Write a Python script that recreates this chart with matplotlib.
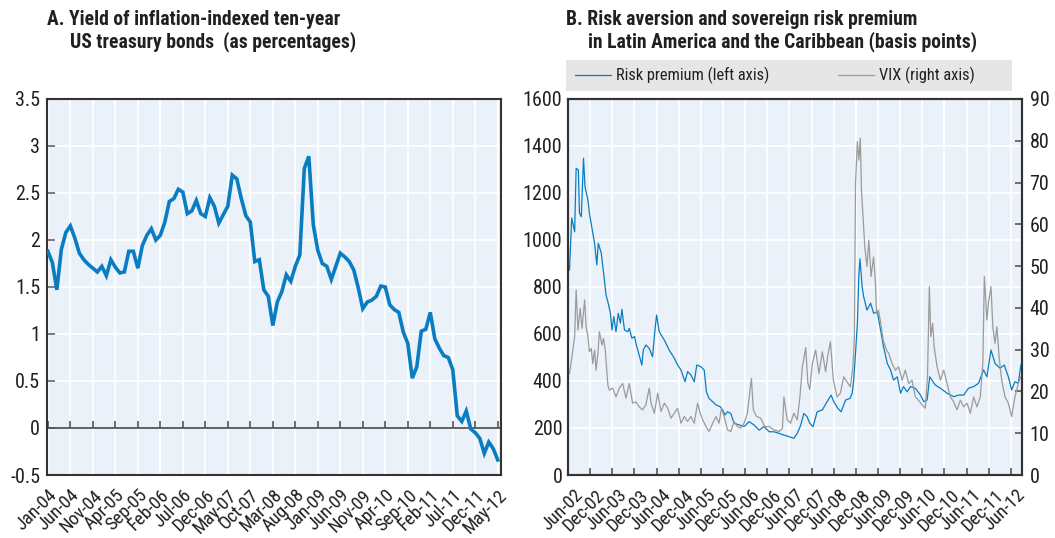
import matplotlib.pyplot as plt
from matplotlib import font_manager
from matplotlib.font_manager import FontProperties
from matplotlib.patches import Rectangle
from matplotlib.transforms import ScaledTranslation


# =========================
# DATA
# =========================

# Panel A: monthly yield, Jan-04 .. May-12 (index 0..100)
yield_months = list(range(101))
yield_values = [
    1.88, 1.76, 1.47, 1.90, 2.08, 2.15, 2.02, 1.86, 1.79, 1.74,
    1.70, 1.66, 1.72, 1.62, 1.79, 1.71, 1.65, 1.66, 1.88, 1.88,
    1.70, 1.94, 2.05, 2.12, 2.00, 2.05, 2.19, 2.41, 2.44, 2.54,
    2.51, 2.28, 2.31, 2.42, 2.28, 2.25, 2.45, 2.36, 2.18, 2.27,
    2.36, 2.69, 2.65, 2.44, 2.26, 2.19, 1.77, 1.79, 1.47, 1.40,
    1.09, 1.34, 1.45, 1.63, 1.56, 1.72, 1.84, 2.76, 2.89, 2.16,
    1.89, 1.75, 1.72, 1.58, 1.72, 1.86, 1.82, 1.77, 1.68, 1.49,
    1.27, 1.34, 1.36, 1.40, 1.51, 1.50, 1.31, 1.26, 1.23, 1.02,
    0.90, 0.53, 0.65, 1.03, 1.05, 1.23, 0.95, 0.85, 0.77, 0.75,
    0.62, 0.13, 0.07, 0.18, -0.01, -0.05, -0.11, -0.27, -0.15, -0.22,
    -0.34,
]
yield_labels = [
    "Jan-04", "Jun-04", "Nov-04", "Apr-05", "Sep-05", "Feb-06", "Jul-06",
    "Dec-06", "May-07", "Oct-07", "Mar-08", "Aug-08", "Jan-09", "Jun-09",
    "Nov-09", "Apr-10", "Sep-10", "Feb-11", "Jul-11", "Dec-11", "May-12",
]
yield_ticks = [-0.5, 0, 0.5, 1, 1.5, 2, 2.5, 3, 3.5]
yield_tick_labels = ["-0.5", "0", "0.5", "1", "1.5", "2", "2.5", "3", "3.5"]

# Panel B: months since Jun-02
rp_months = [
    0.4, 1.0, 1.8, 2.2, 2.8, 3.1, 3.6, 4.2, 4.6, 5.4, 5.8, 6.5, 7.2, 7.8,
    8.2, 9.0, 9.6, 10.3, 10.8, 11.5, 11.9, 12.4, 13.0, 13.6, 14.2, 14.6,
    15.3, 16.2, 16.6, 17.3, 18.0, 18.4, 18.9, 20.0, 20.4, 21.1, 22.0, 22.9,
    23.6, 24.0, 24.7, 26.1, 27.4, 28.8, 29.7, 30.6, 31.7, 32.4, 33.3, 34.2,
    34.9, 36.0, 36.9, 37.5, 38.2, 39.2, 40.1, 41.2, 41.9, 42.5, 43.2, 44.1,
    45.0, 46.4, 47.7, 49.1, 50.4, 51.8, 53.1, 54.5, 55.8, 57.2, 58.5, 59.9,
    61.2, 62.1, 63.0, 63.9, 64.8, 65.5, 66.4, 67.5, 68.9, 70.2, 71.3, 72.0,
    73.1, 74.0, 75.2, 76.4, 77.0, 77.4, 77.9, 78.4, 78.8, 79.1, 79.7, 80.1,
    81.0, 82.0, 82.8, 83.8, 84.6, 85.5, 86.5, 87.4, 88.2, 89.2, 90.1, 90.9,
    91.9, 92.8, 94.1, 95.5, 96.4, 97.3, 98.0, 98.6, 99.5, 100.9, 102.7,
    104.5, 105.8, 107.2, 108.5, 109.9, 111.2, 112.6, 113.5, 114.6, 115.7,
    117.1, 118.2, 119.3, 120.2, 121.1, 122.0, 122.7,
]
rp_values = [
    872, 1094, 1035, 1305, 1298, 1115, 1099, 1348, 1227, 1170, 1113, 1050,
    986, 894, 986, 945, 865, 766, 737, 688, 617, 674, 610, 688, 646, 705,
    617, 610, 624, 582, 589, 560, 532, 468, 532, 553, 539, 503, 624, 681,
    610, 574, 532, 497, 468, 447, 397, 440, 426, 397, 468, 461, 447, 354,
    326, 312, 298, 291, 277, 255, 269, 262, 220, 213, 206, 227, 213, 191,
    206, 184, 184, 177, 170, 163, 156, 177, 210, 262, 248, 220, 206, 269,
    277, 312, 340, 312, 284, 269, 319, 326, 348, 404, 518, 646, 850, 920,
    801, 759, 702, 731, 688, 695, 624, 546, 475, 447, 404, 418, 348, 376,
    354, 376, 369, 340, 312, 319, 418, 404, 383, 369, 348, 333, 340, 340,
    369, 376, 390, 447, 418, 532, 475, 454, 468, 418, 362, 397, 390, 468,
]

vix_months = [
    0.4, 1.0, 1.8, 2.2, 2.7, 3.3, 3.8, 4.5, 4.9, 5.4, 5.8, 6.3, 6.7, 7.2,
    7.6, 8.1, 8.5, 9.2, 9.6, 10.1, 10.8, 11.2, 12.1, 13.0, 13.9, 14.8,
    15.7, 16.6, 17.5, 18.4, 19.3, 20.2, 21.1, 22.0, 22.5, 23.4, 24.3, 25.2,
    26.1, 27.0, 27.9, 28.8, 29.7, 30.6, 31.5, 32.4, 33.3, 34.2, 35.1, 35.8,
    36.5, 37.4, 38.2, 39.2, 40.1, 40.9, 41.6, 42.3, 43.2, 44.1, 45.0, 45.9,
    46.8, 47.7, 48.6, 49.1, 49.7, 50.2, 51.1, 52.2, 53.3, 54.5, 55.8, 57.2,
    58.1, 58.5, 59.4, 60.3, 61.2, 62.1, 62.8, 63.5, 64.4, 65.0, 65.5, 66.2,
    67.1, 68.0, 68.9, 69.8, 70.4, 71.1, 71.9, 72.9, 73.8, 74.7, 75.6, 76.5,
    77.2, 77.6, 77.9, 78.4, 78.8, 79.2, 79.5, 80.0, 80.4, 81.0, 81.5, 82.1,
    82.8, 83.3, 83.6, 84.1, 84.6, 85.4, 86.3, 86.9, 87.8, 88.7, 89.6, 90.5,
    91.4, 92.3, 93.2, 94.1, 95.0, 95.9, 96.8, 97.4, 97.9, 98.3, 98.8, 99.2,
    100.0, 100.9, 101.8, 102.7, 103.6, 104.5, 105.4, 106.3, 107.2, 108.1,
    109.0, 109.9, 110.8, 111.7, 112.4, 112.8, 113.5, 113.9, 114.6, 115.1,
    115.7, 116.2, 116.8, 117.5, 118.4, 119.3, 120.2, 121.1, 122.0, 122.7,
]
vix_values = [
    24.3, 27.9, 33.1, 44.3, 34.7, 39.9, 35.1, 41.9, 35.5, 33.1, 29.5, 30.3,
    26.7, 29.9, 25.1, 29.1, 34.3, 31.1, 32.7, 29.9, 21.5, 20.3, 20.8, 18.7,
    20.8, 21.9, 18.4, 21.9, 17.2, 17.5, 16.3, 15.6, 16.8, 20.8, 17.2, 14.8,
    19.6, 15.2, 17.2, 16.0, 13.6, 14.8, 16.0, 12.4, 14.0, 12.8, 14.0, 12.4,
    17.2, 14.8, 13.2, 11.6, 10.4, 12.4, 14.0, 12.4, 16.0, 14.0, 10.8, 10.4,
    12.8, 11.6, 11.2, 12.4, 14.8, 18.7, 23.1, 15.6, 14.0, 13.6, 11.6, 11.6,
    10.8, 10.4, 11.2, 18.7, 13.2, 12.4, 14.8, 13.2, 18.4, 25.9, 30.5, 21.9,
    20.5, 26.7, 29.9, 24.3, 29.5, 24.7, 28.7, 31.9, 22.7, 18.7, 19.6, 23.5,
    22.3, 21.1, 25.9, 33.1, 69.8, 79.8, 75.4, 80.6, 68.2, 61.0, 54.6, 49.9,
    56.2, 47.5, 52.2, 45.9, 38.7, 39.5, 37.1, 32.3, 29.9, 29.1, 26.7, 25.1,
    25.9, 22.7, 25.1, 21.9, 22.7, 18.7, 17.9, 16.8, 16.0, 23.5, 45.1, 33.1,
    36.3, 30.7, 25.9, 22.7, 25.1, 21.9, 18.7, 17.5, 15.6, 17.9, 16.3, 17.2,
    14.8, 18.7, 16.3, 18.7, 26.7, 47.5, 37.1, 41.1, 45.1, 35.5, 31.5, 35.5,
    28.3, 22.7, 18.7, 17.2, 14.0, 18.7, 21.9, 23.5,
]
spread_labels = [
    "Jun-02", "Dec-02", "Jun-03", "Dec-03", "Jun-04", "Dec-04", "Jun-05",
    "Dec-05", "Jun-06", "Dec-06", "Jun-07", "Dec-07", "Jun-08", "Dec-08",
    "Jun-09", "Dec-09", "Jun-10", "Dec-10", "Jun-11", "Dec-11", "Jun-12",
]


# =========================
# FONT
# =========================

def pick_font():

    # narrow sans faces first, plain Liberation Sans as last resort
    candidates = [
        ("Liberation Sans Narrow", "normal"),
        ("Roboto Condensed", "normal"),
        ("Roboto", "condensed"),
        ("Open Sans", "condensed"),
        ("DejaVu Sans", "condensed"),
    ]

    for family, stretch in candidates:
        try:
            path = font_manager.findfont(
                FontProperties(family=family, stretch=stretch),
                fallback_to_default=False,
            )
        except ValueError:
            continue
        if stretch == "normal" or "ondensed" in path:
            return family, stretch

    return "Liberation Sans", "normal"


FONT_FAMILY, FONT_STRETCH = pick_font()

plt.rcParams['font.family'] = [FONT_FAMILY, 'DejaVu Sans']
plt.rcParams['font.stretch'] = FONT_STRETCH

BLUE = "#0A7DC2"
GREY = "#9B9B9B"
PANEL_BG = "#EAF1F9"
FRAME = "#333333"
TEXT = "#231F20"


def fit_size(renderer, text, target_px, weight="normal"):

    prop = FontProperties(family=FONT_FAMILY, stretch=FONT_STRETCH,
                          weight=weight, size=10)
    width, _, _ = renderer.get_text_width_height_descent(text, prop,
                                                         ismath=False)
    return 10 * target_px / width


def style_frame(ax):

    ax.set_facecolor(PANEL_BG)

    for side in ["left", "right", "top", "bottom"]:
        ax.spines[side].set_color(FRAME)
        ax.spines[side].set_linewidth(1.5)

    ax.grid(True, color="white", linewidth=1.3)
    ax.set_axisbelow(True)


# =========================
# PANEL A
# =========================

def draw_yield(fig, sizes):

    ax = fig.add_axes([0.0445, 0.1171, 0.4303, 0.6989])
    style_frame(ax)

    ax.plot(yield_months, yield_values, color=BLUE, linewidth=2.6,
            solid_joinstyle="miter", zorder=3)

    ax.set_xlim(-0.2, 100.7)
    ax.set_ylim(-0.5, 3.5)

    ticks = yield_months[::5]
    ax.set_xticks(ticks)
    ax.set_xticklabels(yield_labels, rotation=45, ha="right",
                       rotation_mode="anchor", fontsize=sizes["x"],
                       color=TEXT)
    ax.tick_params(axis="x", length=0, pad=8)

    ax.set_yticks(yield_ticks)
    ax.set_yticklabels(yield_tick_labels, fontsize=sizes["y"], color=TEXT)
    ax.tick_params(axis="y", direction="in", length=6, width=1.2,
                   color="#666666", pad=5)

    # zero line carrying the month ticks
    zero_axis = ax.secondary_xaxis(0.125)
    zero_axis.set_zorder(2)
    zero_axis.set_xticks(ticks)
    zero_axis.set_xticklabels([])
    zero_axis.tick_params(direction="in", length=5, width=1.2,
                          color="#555555")
    zero_axis.spines["bottom"].set_color("#555555")
    zero_axis.spines["bottom"].set_linewidth(1.3)

    fig.text(47 / 1055, 1 - 25 / 538, "A. Yield of inflation-indexed ten-year",
             fontsize=sizes["title"], fontweight="bold", color=TEXT,
             va="baseline")
    fig.text(70 / 1055, 1 - 47.5 / 538, "US treasury bonds  (as percentages)",
             fontsize=sizes["title"], fontweight="bold", color=TEXT,
             va="baseline")


# =========================
# PANEL B
# =========================

def draw_spread(fig, sizes):

    ax = fig.add_axes([0.5384, 0.1171, 0.4303, 0.6989])
    style_frame(ax)

    ax_vix = ax.twinx()

    rp_line, = ax.plot(rp_months, rp_values, color=BLUE, linewidth=0.9,
                       label="Risk premium (left axis)")
    vix_line, = ax_vix.plot(vix_months, vix_values, color=GREY,
                            linewidth=0.9, label="VIX (right axis)")

    ax.set_xlim(0, 123)
    ax.set_ylim(0, 1600)
    ax_vix.set_ylim(0, 90)

    ticks = list(range(0, 121, 6))
    ax.set_xticks(ticks)
    ax.set_xticklabels(spread_labels, rotation=45, ha="right",
                       rotation_mode="anchor", fontsize=sizes["x"],
                       color=TEXT)
    ax.tick_params(axis="x", direction="in", length=5, width=1.2,
                   color="#555555", pad=8)

    # labels sit a touch right of their ticks in the original
    shift = ScaledTranslation(4 / 72, 0, fig.dpi_scale_trans)
    for label in ax.get_xticklabels():
        label.set_transform(label.get_transform() + shift)

    ax.set_yticks(range(0, 1601, 200))
    ax.tick_params(axis="y", direction="in", length=0,
                   labelsize=sizes["y"], labelcolor=TEXT, pad=4)

    ax_vix.set_yticks(range(0, 91, 10))
    ax_vix.tick_params(axis="y", direction="in", length=5, width=1.2,
                       color="#555555", labelsize=sizes["y"],
                       labelcolor=TEXT, pad=5.5)
    for side in ["left", "right", "top", "bottom"]:
        ax_vix.spines[side].set_color(FRAME)
        ax_vix.spines[side].set_linewidth(1.5)

    # grey legend band
    fig.patches.append(Rectangle(
        (566 / 1055, 1 - 91 / 538), 446 / 1055, 31 / 538,
        transform=fig.transFigure, facecolor="#E6E6E6", edgecolor="none",
    ))

    font_px = sizes["legend"] * 100 / 72
    for line, left_px in [(rp_line, 575), (vix_line, 838)]:
        legend = fig.legend(
            handles=[line],
            loc="center left",
            bbox_to_anchor=(left_px / 1055, 1 - 75.5 / 538),
            frameon=False,
            fontsize=sizes["legend"],
            handlelength=36 / font_px,
            handletextpad=5 / font_px,
            borderpad=0,
            borderaxespad=0,
        )
        for text in legend.get_texts():
            text.set_color(TEXT)

    fig.text(566 / 1055, 1 - 25 / 538,
             "B. Risk aversion and sovereign risk premium",
             fontsize=sizes["title"], fontweight="bold", color=TEXT,
             va="baseline")
    fig.text(588 / 1055, 1 - 47.5 / 538,
             "in Latin America and the Caribbean (basis points)",
             fontsize=sizes["title"], fontweight="bold", color=TEXT,
             va="baseline")


# =========================
# MAIN
# =========================

if __name__ == "__main__":

    fig = plt.figure(figsize=(10.55, 5.38), dpi=100)
    renderer = fig.canvas.get_renderer()

    title_a = fit_size(renderer, "A. Yield of inflation-indexed ten-year",
                       295, "bold")
    title_b = fit_size(renderer, "B. Risk aversion and sovereign risk premium",
                       347, "bold")

    sizes = {
        "title": (title_a + title_b) / 2,
        "y": fit_size(renderer, "1600", 39),
        "x": fit_size(renderer, "Jan-04", 50),
        "legend": fit_size(renderer, "Risk premium (left axis)", 153),
    }

    draw_yield(fig, sizes)
    draw_spread(fig, sizes)

    fig.savefig("out.png", dpi=100, facecolor="white")
